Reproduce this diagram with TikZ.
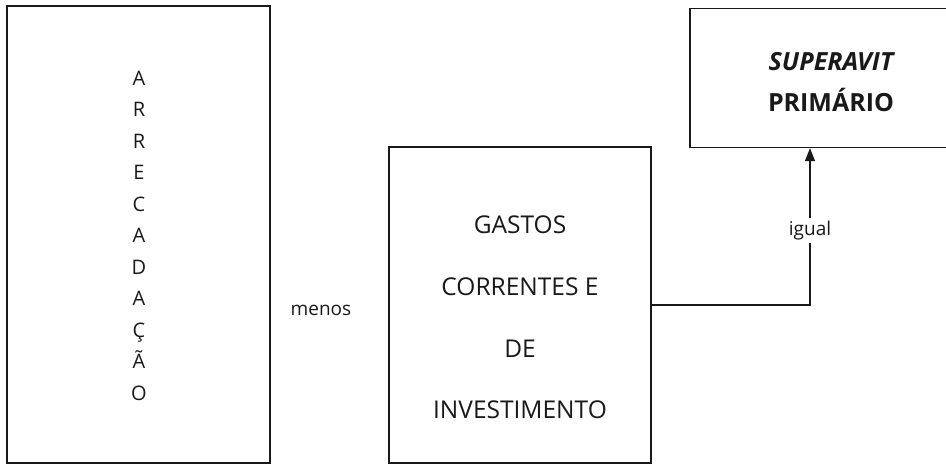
\documentclass[tikz,border=0pt]{standalone}
\usepackage{fontspec}
\setmainfont{Open Sans}
\usetikzlibrary{arrows.meta}
\begin{document}
\begin{tikzpicture}[x=1pt,y=-1pt,
  boxst/.style={draw=black!90, line width=1.3pt, rectangle, inner sep=0pt},
  txt/.style={align=center, inner sep=0pt, text=black!90},
  conn/.style={draw=black!90, line width=1.3pt},
  lbl/.style={fill=white, inner sep=3pt, text=black!90, font=\fontsize{19}{22}\selectfont}]
\useasboundingbox (0,0) rectangle (946,466);
\clip (0,0) rectangle (946,466);
% boxes
\node[boxst, minimum width=263pt, minimum height=457pt] (arr) at (138.5,234.5) {};
\node[boxst, minimum width=262pt, minimum height=316pt] (gas) at (520,305) {};
\node[boxst, minimum width=282pt, minimum height=139pt] (sup) at (831,78) {};
% texts
\node[txt, font=\fontsize{20}{31.5}\selectfont] (arrtxt) at (139,235.5)
  {A\\R\\R\\E\\C\\A\\D\\A\\Ç\\Ã\\O};
\node[txt, font=\fontsize{24.5}{61.7}\selectfont] (gastxt) at (520,317.5)
  {GASTOS\\CORRENTES E\\DE\\INVESTIMENTO};
\node[txt, font=\fontsize{25}{41}\selectfont\bfseries] (suptxt) at (831,82.5)
  {\itshape SUPERAVIT\\PRIMÁRIO};
\node[txt, font=\fontsize{19}{22}\selectfont] (menos) at (321,310) {menos};
% connector
\coordinate (bend) at (810,305);
\draw[conn, -{Triangle[length=13pt,width=10pt]}] (gas.east) -- (bend)
  -- node[lbl, pos=0.475] (igual) {igual} (sup.south -| bend);
\end{tikzpicture}
\end{document}
